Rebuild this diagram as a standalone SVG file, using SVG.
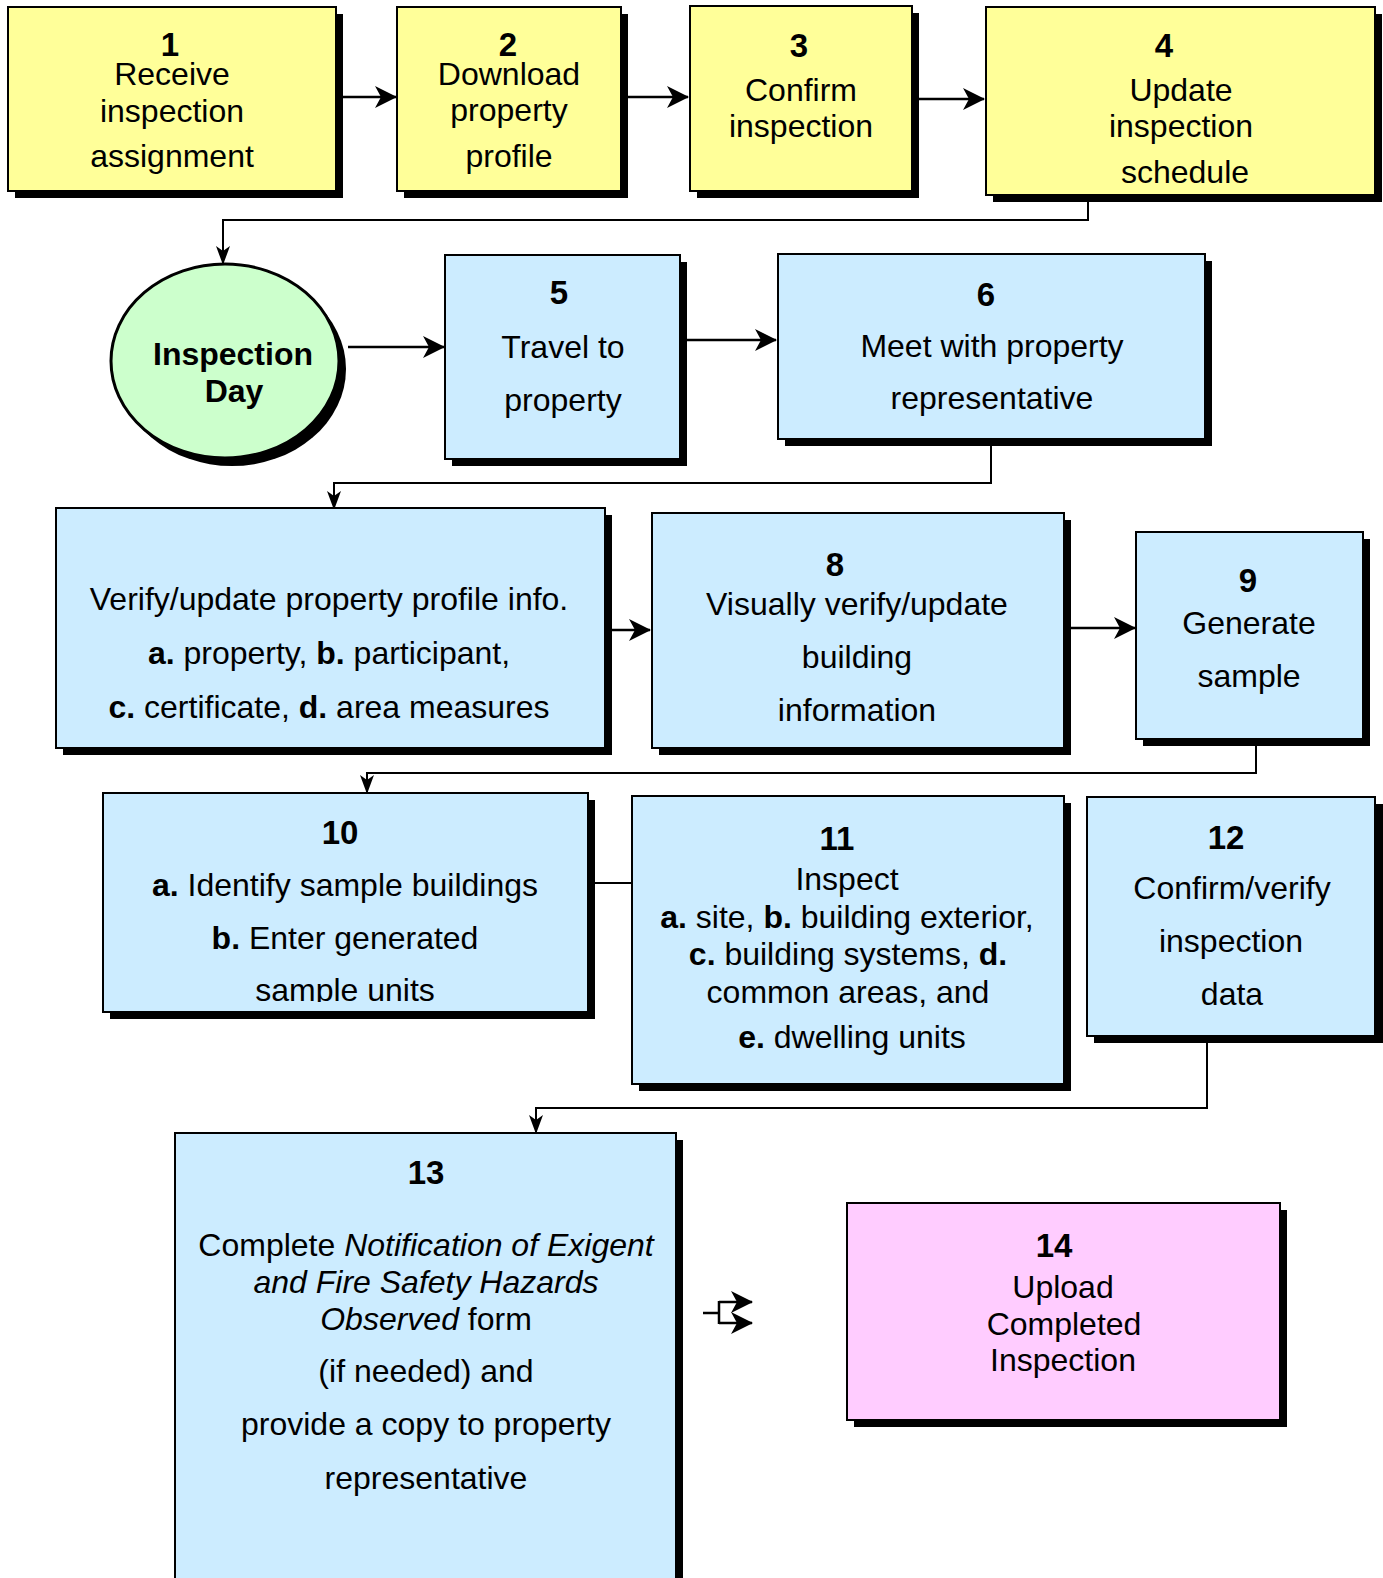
<svg xmlns="http://www.w3.org/2000/svg" width="1383" height="1578" viewBox="0 0 1383 1578">
<style>
.sh{fill:#000}
.bx{stroke:#000;stroke-width:2}
.y{fill:#FFFF99}
.bl{fill:#CCECFF}
.g{fill:#CCFFCC}
.p{fill:#FFCCFF}
text{font-family:"Liberation Sans",Arial,sans-serif;fill:#000;text-anchor:middle}
.t{font-size:32px}
.n{font-size:33px;font-weight:bold}
.b{font-weight:bold}
.i{font-style:italic}
.c{fill:none;stroke:#000}
.thick{stroke-width:2.5;marker-end:url(#big)}
.thin{stroke-width:2;marker-end:url(#small)}
</style>
<defs>
<marker id="big" markerUnits="userSpaceOnUse" viewBox="0 0 22 22" refX="21" refY="11" markerWidth="22" markerHeight="22" orient="auto">
<path d="M0,0 L22,11 L0,22 L6,11 z" fill="#000"/>
</marker>
<marker id="small" markerUnits="userSpaceOnUse" viewBox="0 0 19 14" refX="18" refY="7" markerWidth="19" markerHeight="14" orient="auto">
<path d="M0,0 L19,7 L0,14 L5,7 z" fill="#000"/>
</marker>
<clipPath id="clip10"><rect x="103" y="793" width="485" height="209"/></clipPath>
</defs>
<rect width="1383" height="1578" fill="#fff"/>

<g id="connectors">
<path class="c thick" d="M341,97 L396,97"/>
<path class="c thick" d="M627,97 L688,97"/>
<path class="c thick" d="M919,99 L984,99"/>
<path class="c thin" d="M1088,202 V220 H223 V264"/>
<path class="c thick" d="M348,347 L444,347"/>
<path class="c thick" d="M687,340 L776,340"/>
<path class="c thin" d="M991,439 V483 H334 V509"/>
<path class="c thick" d="M611,630 L650,630"/>
<path class="c thick" d="M1070,628 L1135,628"/>
<path class="c thin" d="M1256,746 V773 H367 V793"/>
<path class="c" stroke-width="2" d="M593,883 L631,883"/>
<path class="c thin" d="M1207,1043 V1108 H536 V1133"/>
<path class="c" stroke-width="2.5" d="M703,1313 H719 M719,1301 V1324"/>
<path class="c thick" d="M719,1302 H752"/>
<path class="c thick" d="M719,1323 H752"/>
</g>

<g id="node1">
<rect class="sh" x="15" y="14" width="328" height="184"/>
<rect class="bx y" x="8" y="7" width="328" height="184"/>
<text class="n" x="170" y="56">1</text>
<text class="t" x="172" y="85">Receive</text>
<text class="t" x="172" y="122">inspection</text>
<text class="t" x="172" y="167">assignment</text>
</g>

<g id="node2">
<rect class="sh" x="404" y="14" width="224" height="184"/>
<rect class="bx y" x="397" y="7" width="224" height="184"/>
<text class="n" x="508" y="56">2</text>
<text class="t" x="509" y="85">Download</text>
<text class="t" x="509" y="121">property</text>
<text class="t" x="509" y="167">profile</text>
</g>

<g id="node3">
<rect class="sh" x="697" y="13" width="222" height="185"/>
<rect class="bx y" x="690" y="6" width="222" height="185"/>
<text class="n" x="799" y="57">3</text>
<text class="t" x="801" y="101">Confirm</text>
<text class="t" x="801" y="137">inspection</text>
</g>

<g id="node4">
<rect class="sh" x="993" y="14" width="389" height="188"/>
<rect class="bx y" x="986" y="7" width="389" height="188"/>
<text class="n" x="1164" y="57">4</text>
<text class="t" x="1181" y="101">Update</text>
<text class="t" x="1181" y="137">inspection</text>
<text class="t" x="1185" y="183">schedule</text>
</g>

<g id="inspection-day">
<ellipse class="sh" cx="232" cy="369" rx="114" ry="97"/>
<ellipse class="g" cx="225" cy="361" rx="114" ry="97" stroke="#000" stroke-width="3"/>
<text class="t b" x="233" y="365">Inspection</text>
<text class="t b" x="234" y="402">Day</text>
</g>

<g id="node5">
<rect class="sh" x="452" y="262" width="235" height="204"/>
<rect class="bx bl" x="445" y="255" width="235" height="204"/>
<text class="n" x="559" y="304">5</text>
<text class="t" x="563" y="358">Travel to</text>
<text class="t" x="563" y="411">property</text>
</g>

<g id="node6">
<rect class="sh" x="785" y="261" width="427" height="185"/>
<rect class="bx bl" x="778" y="254" width="427" height="185"/>
<text class="n" x="986" y="306">6</text>
<text class="t" x="992" y="357">Meet with property</text>
<text class="t" x="992" y="409">representative</text>
</g>

<g id="node7">
<rect class="sh" x="63" y="515" width="549" height="240"/>
<rect class="bx bl" x="56" y="508" width="549" height="240"/>
<text class="t" x="329" y="610">Verify/update property profile info.</text>
<text class="t" x="329" y="664"><tspan class="b">a.</tspan> property, <tspan class="b">b.</tspan> participant,</text>
<text class="t" x="329" y="718"><tspan class="b">c.</tspan> certificate, <tspan class="b">d.</tspan> area measures</text>
</g>

<g id="node8">
<rect class="sh" x="659" y="520" width="412" height="235"/>
<rect class="bx bl" x="652" y="513" width="412" height="235"/>
<text class="n" x="835" y="576">8</text>
<text class="t" x="857" y="615">Visually verify/update</text>
<text class="t" x="857" y="668">building</text>
<text class="t" x="857" y="721">information</text>
</g>

<g id="node9">
<rect class="sh" x="1143" y="539" width="227" height="207"/>
<rect class="bx bl" x="1136" y="532" width="227" height="207"/>
<text class="n" x="1248" y="592">9</text>
<text class="t" x="1249" y="634">Generate</text>
<text class="t" x="1249" y="687">sample</text>
</g>

<g id="node10">
<rect class="sh" x="110" y="800" width="485" height="219"/>
<rect class="bx bl" x="103" y="793" width="485" height="219"/>
<g clip-path="url(#clip10)">
<text class="n" x="340" y="844">10</text>
<text class="t" x="345" y="896"><tspan class="b">a.</tspan> Identify sample buildings</text>
<text class="t" x="345" y="949"><tspan class="b">b.</tspan> Enter generated</text>
<text class="t" x="345" y="1001">sample units</text>
</g>
</g>

<g id="node11">
<rect class="sh" x="639" y="803" width="432" height="288"/>
<rect class="bx bl" x="632" y="796" width="432" height="288"/>
<text class="n" x="837" y="850">11</text>
<text class="t" x="847" y="890">Inspect</text>
<text class="t" x="847" y="928"><tspan class="b">a.</tspan> site, <tspan class="b">b.</tspan> building exterior,</text>
<text class="t" x="848" y="965"><tspan class="b">c.</tspan> building systems, <tspan class="b">d.</tspan></text>
<text class="t" x="848" y="1003">common areas, and</text>
<text class="t" x="852" y="1048"><tspan class="b">e.</tspan> dwelling units</text>
</g>

<g id="node12">
<rect class="sh" x="1094" y="804" width="289" height="239"/>
<rect class="bx bl" x="1087" y="797" width="288" height="239"/>
<text class="n" x="1226" y="849">12</text>
<text class="t" x="1232" y="899">Confirm/verify</text>
<text class="t" x="1231" y="952">inspection</text>
<text class="t" x="1232" y="1005">data</text>
</g>

<g id="node13">
<rect class="sh" x="182" y="1140" width="501" height="460"/>
<rect class="bx bl" x="175" y="1133" width="501" height="460"/>
<text class="n" x="426" y="1184">13</text>
<text class="t" x="426" y="1256">Complete <tspan class="i">Notification of Exigent</tspan></text>
<text class="t i" x="426" y="1293">and Fire Safety Hazards</text>
<text class="t" x="426" y="1330"><tspan class="i">Observed</tspan> form</text>
<text class="t" x="426" y="1382">(if needed) and</text>
<text class="t" x="426" y="1435">provide a copy to property</text>
<text class="t" x="426" y="1489">representative</text>
</g>

<g id="node14">
<rect class="sh" x="854" y="1210" width="433" height="217"/>
<rect class="bx p" x="847" y="1203" width="433" height="217"/>
<text class="n" x="1054" y="1257">14</text>
<text class="t" x="1063" y="1298">Upload</text>
<text class="t" x="1064" y="1335">Completed</text>
<text class="t" x="1063" y="1371">Inspection</text>
</g>
</svg>
